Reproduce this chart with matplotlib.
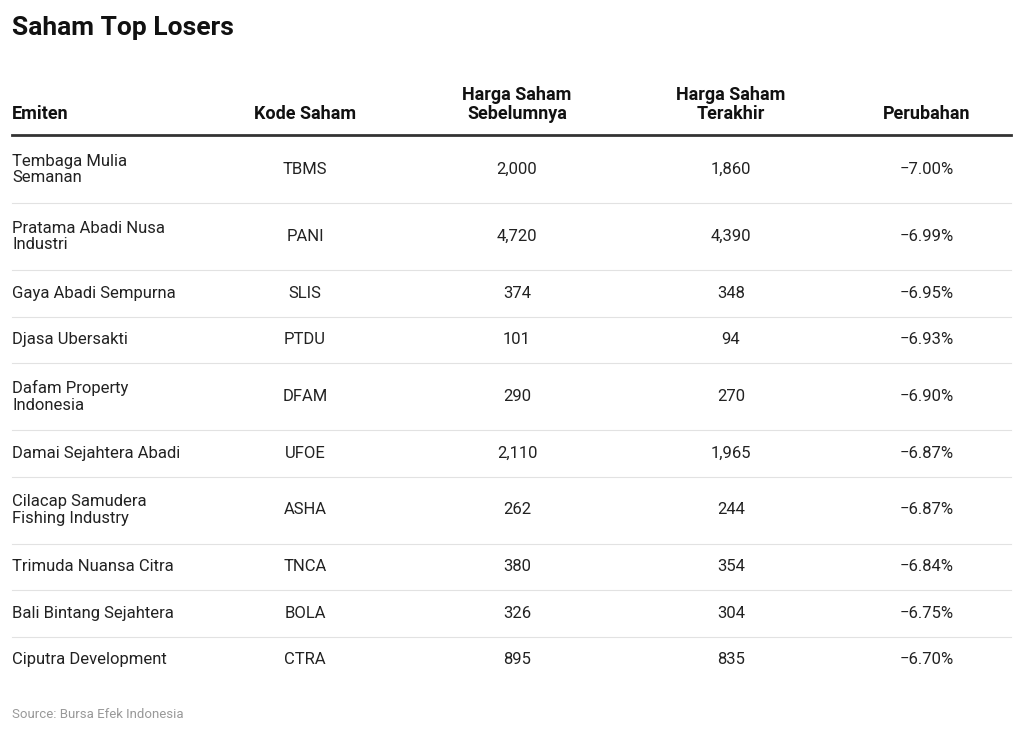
import matplotlib
matplotlib.use("Agg")
import matplotlib.pyplot as plt
from matplotlib.lines import Line2D

emiten = ["Tembaga Mulia\nSemanan", "Pratama Abadi Nusa\nIndustri", "Gaya Abadi Sempurna",
          "Djasa Ubersakti", "Dafam Property\nIndonesia", "Damai Sejahtera Abadi",
          "Cilacap Samudera\nFishing Industry", "Trimuda Nuansa Citra",
          "Bali Bintang Sejahtera", "Ciputra Development"]
kode = ["TBMS", "PANI", "SLIS", "PTDU", "DFAM", "UFOE", "ASHA", "TNCA", "BOLA", "CTRA"]
sebelum = [2000, 4720, 374, 101, 290, 2110, 262, 380, 326, 895]
terakhir = [1860, 4390, 348, 94, 270, 1965, 244, 354, 304, 835]
perubahan = [-7.00, -6.99, -6.95, -6.93, -6.90, -6.87, -6.87, -6.84, -6.75, -6.70]
headers = ["Emiten", "Kode Saham", "Harga Saham\nSebelumnya", "Harga Saham\nTerakhir", "Perubahan"]

W, H = 1024, 735
fig = plt.figure(figsize=(W/100, H/100), dpi=100)
plt.rcParams["font.family"] = "Roboto"

def fy(py): return 1 - py/H
def fx(px): return px/W

fig.text(fx(12), fy(28), "Saham Top Losers", fontsize=19, fontweight="bold", va="center", ha="left", color="#111")

colx = [12, 305, 517, 731, 927]
has = ["left", "center", "center", "center", "center"]
for x, h, ha in zip(colx, headers, has):
    fig.text(fx(x), fy(123), h, fontsize=13, fontweight="bold", va="bottom", ha=ha, color="#111", linespacing=1.05)
fig.add_artist(Line2D([fx(12), fx(1011)], [fy(135), fy(135)], color="#333", lw=2, transform=fig.transFigure))

y = 136
for i in range(len(emiten)):
    hgt = 67 if "\n" in emiten[i] else 46.5
    cy = y + hgt/2
    vals = [emiten[i], kode[i], f"{sebelum[i]:,}", f"{terakhir[i]:,}", f"\u2212{abs(perubahan[i]):.2f}%"]
    for x, v, ha in zip(colx, vals, has):
        fig.text(fx(x), fy(cy), v, fontsize=12, va="center", ha=ha, color="#222", linespacing=1.15)
    y += hgt
    if i < len(emiten) - 1:
        fig.add_artist(Line2D([fx(12), fx(1011)], [fy(y), fy(y)], color="#e2e2e2", lw=0.8, transform=fig.transFigure))

fig.text(fx(12), fy(714), "Source: Bursa Efek Indonesia", fontsize=9.5, va="center", ha="left", color="#999")
fig.savefig("out.png", dpi=100)
